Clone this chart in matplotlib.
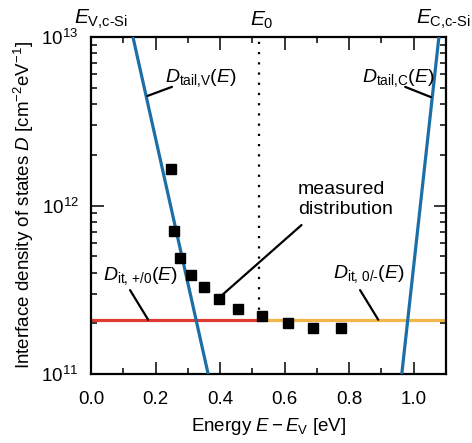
import numpy as np
import matplotlib
matplotlib.use('Agg')
import matplotlib.pyplot as plt
from matplotlib.ticker import MultipleLocator, FixedLocator, FixedFormatter, LogLocator, NullFormatter

plt.rcParams['font.family'] = ['Liberation Sans', 'DejaVu Sans']
plt.rcParams['mathtext.fontset'] = 'custom'
plt.rcParams['mathtext.rm'] = 'Liberation Sans'
plt.rcParams['mathtext.it'] = 'Liberation Sans:italic'
plt.rcParams['mathtext.bf'] = 'Liberation Sans:bold'

# measured interface states
meas_E = [0.248, 0.256, 0.276, 0.310, 0.349, 0.398, 0.457, 0.530, 0.610, 0.687, 0.776]
meas_D = [1.65e12, 7.06e11, 4.86e11, 3.85e11, 3.30e11, 2.79e11, 2.42e11, 2.22e11, 2.00e11, 1.87e11, 1.87e11]

# band tails (straight in log scale)
tail_v_E = [0.130, 0.363]
tail_v_D = [1e13, 1e11]
tail_c_E = [0.963, 1.078]
tail_c_D = [1e11, 1e13]

# constant dangling bond densities
E0 = 0.52
dit_p_E = [0.0, E0]
dit_p_D = [2.1e11, 2.1e11]
dit_n_E = [E0, 1.1]
dit_n_D = [2.1e11, 2.1e11]

blue = '#1b6fa6'
red = '#e03a32'
orange = '#f2b547'
fs = 13.5

fig = plt.figure(figsize=(4.72, 4.43), dpi=100)
ax = fig.add_axes([91/472, 69/443, 355/472, 337/443])

ax.plot(tail_v_E, tail_v_D, color=blue, lw=2.3, solid_capstyle='butt', zorder=3)
ax.plot(tail_c_E, tail_c_D, color=blue, lw=2.3, solid_capstyle='butt', zorder=3)
ax.plot(dit_p_E, dit_p_D, color=red, lw=2.3, solid_capstyle='butt', zorder=2)
ax.plot(dit_n_E, dit_n_D, color=orange, lw=2.3, solid_capstyle='butt', zorder=2)
ax.plot([E0, E0], [dit_p_D[1], 1e13], color='black', lw=1.6, linestyle=(0, (1, 3.6)), zorder=1)
ax.plot(meas_E, meas_D, linestyle='none', marker='s', ms=6.8, color='black', zorder=4)

ax.set_yscale('log')
ax.set_xlim(0, 1.1)
ax.set_ylim(1e11, 1e13)

ax.xaxis.set_major_locator(MultipleLocator(0.2))
ax.xaxis.set_minor_locator(MultipleLocator(0.1))
ax.xaxis.set_major_formatter(plt.FuncFormatter(lambda v, p: f'{v:.1f}'))
ax.yaxis.set_major_locator(FixedLocator([1e11, 1e12, 1e13]))
ax.yaxis.set_major_formatter(FixedFormatter([r'$10^{11}$', r'$10^{12}$', r'$10^{13}$']))
ax.yaxis.set_minor_locator(LogLocator(base=10, subs=np.arange(2, 10)))
ax.yaxis.set_minor_formatter(NullFormatter())

ax.tick_params(which='both', direction='in', top=True, right=True, width=1.1, labelsize=fs)
ax.tick_params(which='major', length=9)
ax.tick_params(axis='x', which='major', pad=12)
ax.tick_params(axis='y', which='major', pad=9)
ax.tick_params(which='minor', length=4.5)
for s in ax.spines.values():
    s.set_linewidth(1.6)

ax.set_xlabel(r'Energy $E-E_\mathrm{V}$ [eV]', fontsize=fs, labelpad=6)
ax.set_ylabel(r'Interface density of states $D$ [cm$^{-2}$eV$^{-1}$]', fontsize=fs, labelpad=4)

# band edge labels above the frame
ax.text(0.03, 1.018, r'$E_\text{V,c-Si}$', transform=ax.get_xaxis_transform(),
        ha='center', va='bottom', fontsize=fs + 1.5, clip_on=False)
ax.text(0.53, 1.018, r'$E_0$', transform=ax.get_xaxis_transform(),
        ha='center', va='bottom', fontsize=fs + 1.5, clip_on=False)
fig.text(471/472, (443 - 37) / 443 + 0.018 * 337 / 443, r'$E_\text{C,c-Si}$',
         ha='right', va='bottom', fontsize=fs + 1.5)

# curve labels with leader lines
line = dict(arrowstyle='-', color='black', lw=1.6, shrinkA=0, shrinkB=0)
ax.text(0.208, 0.866, r'$D_\text{tail,V}(E)$', transform=ax.transAxes, fontsize=fs + 0.5, va='baseline')
ax.annotate('', xy=(0.175, 4.47e12), xytext=(0.228, 0.852), textcoords='axes fraction', arrowprops=line)
ax.text(0.763, 0.866, r'$D_\text{tail,C}(E)$', transform=ax.transAxes, fontsize=fs + 0.5, va='baseline')
ax.annotate('', xy=(1.053, 4.4e12), xytext=(0.885, 0.852), textcoords='axes fraction', arrowprops=line)
ax.text(0.583, 0.572, 'measured\ndistribution', transform=ax.transAxes, fontsize=fs + 0.5, va='top',
        linespacing=1.2)
ax.annotate('', xy=(0.40, 2.87e11), xytext=(0.593, 0.442), textcoords='axes fraction', arrowprops=line)
ax.text(0.682, 0.285, r'$D_\text{it, 0/-}(E)$', transform=ax.transAxes, fontsize=fs + 0.5, va='baseline')
ax.annotate('', xy=(0.890, 2.1e11), xytext=(0.758, 0.249), textcoords='axes fraction', arrowprops=line)
ax.text(0.034, 0.279, r'$D_\text{it, +/0}(E)$', transform=ax.transAxes, fontsize=fs + 0.5, va='baseline')
ax.annotate('', xy=(0.177, 2.1e11), xytext=(0.110, 0.249), textcoords='axes fraction', arrowprops=line)

fig.savefig('out.png', dpi=100)
